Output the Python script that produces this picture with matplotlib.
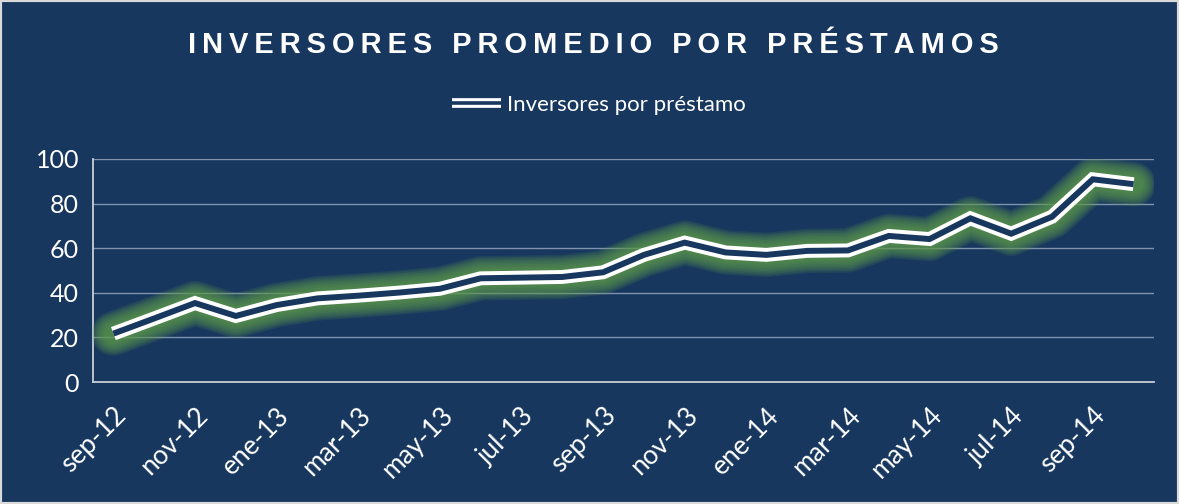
"""
Inversores promedio por préstamo, sep-12 a oct-14.
"""
import numpy as np
import matplotlib
matplotlib.use('Agg')
import matplotlib.pyplot as plt
from matplotlib.lines import Line2D
from matplotlib.legend_handler import HandlerTuple
from matplotlib.patches import Rectangle

# data
months = [
    'sep-12', 'oct-12', 'nov-12', 'dic-12', 'ene-13', 'feb-13', 'mar-13',
    'abr-13', 'may-13', 'jun-13', 'jul-13', 'ago-13', 'sep-13', 'oct-13',
    'nov-13', 'dic-13', 'ene-14', 'feb-14', 'mar-14', 'abr-14', 'may-14',
    'jun-14', 'jul-14', 'ago-14', 'sep-14', 'oct-14']
inversores = [
    21.7, 28.5, 35.4, 29.6, 34.5, 37.5, 38.7, 40.1, 41.8, 46.5, 46.8, 47.1,
    49.2, 57.0, 62.5, 58.1, 57.0, 58.8, 59.0, 65.5, 64.1, 73.4, 66.5, 74.1,
    90.9, 88.7]
y_ticks = [0, 20, 40, 60, 80, 100]

BG = '#17375E'
GRID = '#7F93AE'
SPINE = '#C9CED6'
GLOW = '#5E9A4C'
FONT = ['Lato', 'DejaVu Sans']

plt.rcParams['font.family'] = FONT

fig = plt.figure(figsize=(11.79, 5.04), dpi=100, facecolor=BG)
ax = fig.add_axes([93 / 1179, 1 - 382 / 504, (1154 - 93) / 1179,
                   (382 - 159) / 504])
ax.set_facecolor(BG)

x = np.arange(len(months))

# green glow: stacked translucent strokes
for lw in np.linspace(32, 13, 10):
    ax.plot(x, inversores, color=GLOW, lw=lw, alpha=0.15,
            solid_capstyle='round', solid_joinstyle='round', zorder=2)
# double white line
ax.plot(x, inversores, color='white', lw=10, solid_capstyle='butt',
        solid_joinstyle='miter', zorder=3)
ax.plot(x, inversores, color=BG, lw=4.3, solid_capstyle='butt',
        solid_joinstyle='miter', zorder=4)

ax.set_xlim(-0.5, len(months) - 0.5)
ax.set_ylim(0, 100)
ax.set_yticks(y_ticks)
ax.set_xticks(x[::2])
ax.set_xticklabels(months[::2], rotation=45, ha='right',
                   rotation_mode='anchor')
ax.tick_params(axis='x', colors='white', labelsize=19, length=0, pad=15)
ax.tick_params(axis='y', colors='white', labelsize=18, length=0, pad=10)
ax.grid(axis='y', color=GRID, lw=1.0, zorder=0)
ax.set_axisbelow(True)
for side in ('top', 'right'):
    ax.spines[side].set_visible(False)
for side in ('left', 'bottom'):
    ax.spines[side].set_color(SPINE)
    ax.spines[side].set_linewidth(1.3)
    ax.spines[side].set_zorder(1)

# title with wide letter spacing
title = 'INVERSORES PROMEDIO POR PRÉSTAMOS'
fig.text(0.503, 1 - 45 / 504, '\u2009'.join(title), color='white',
         fontsize=21, fontweight='bold', ha='center', va='center',
         family=['Liberation Sans', 'DejaVu Sans'])

# legend with a double-line handle
outer = Line2D([], [], color='white', lw=7, solid_capstyle='butt')
inner = Line2D([], [], color=BG, lw=2.6, solid_capstyle='butt')
fig.legend([(outer, inner)], ['Inversores por préstamo'],
           handler_map={tuple: HandlerTuple(ndivide=1)},
           loc='center', bbox_to_anchor=(0.508, 1 - 105 / 504),
           frameon=False, fontsize=16, labelcolor='white',
           handlelength=2.2, handletextpad=0.3)

# light frame round the figure
fig.patches.append(Rectangle((0, 0), 1, 1, transform=fig.transFigure,
                             fill=False, edgecolor='#D9D9D9', lw=3))

fig.savefig('out.png', dpi=100, facecolor=BG)
